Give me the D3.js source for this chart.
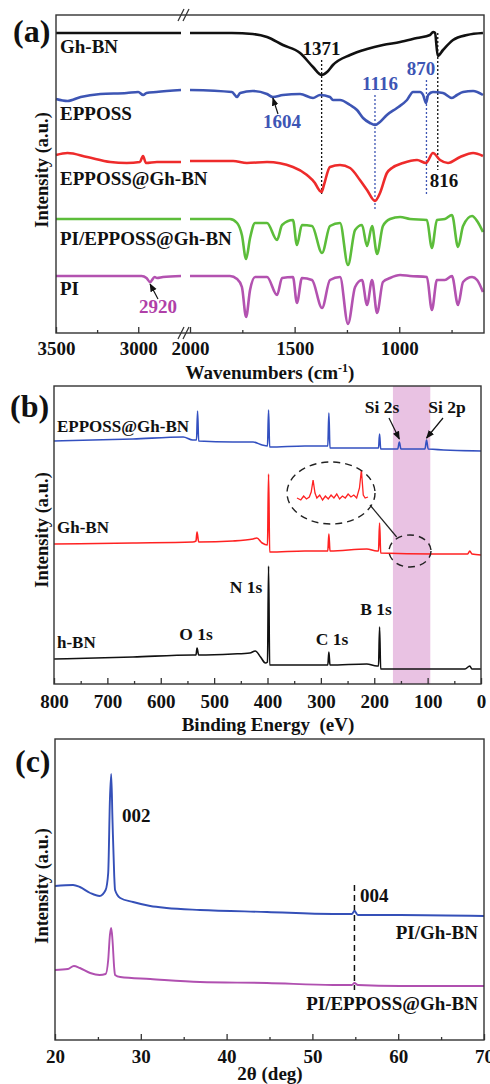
<!DOCTYPE html>
<html>
<head>
<meta charset="utf-8">
<script src="https://cdn.jsdelivr.net/npm/d3@7"></script>
<style>
body { margin: 0; background: #fff; }
text { font-family: "Liberation Serif", "Times New Roman", serif; font-weight: bold; }
</style>
</head>
<body>
<script>
const W = 490, H = 1084;

// ---- (a) FTIR data: [wavenumber, intensity a.u.] ----
const irGhBN = [[3500,300],[2740,300],[2000,300],[1800,300],[1700,299],[1632,296],[1556,288],[1474,280],[1412,266],[1371,258],[1345,261],[1317,268],[1235,278],[1154,284],[1078,288],[996,291],[915,295],[853,298],[838,301],[829,300],[816,277],[791,283],[743,293],[676,298],[600,300]];
const irEPPOSS = [[3500,234],[3430,232],[3350,236],[3230,239],[3070,240],[3000,241],[2970,238],[2950,240],[2890,241],[2740,243],
  [2000,243],[1800,241],[1775,236],[1760,240],[1700,242],[1632,239],[1604,236],[1556,238],[1474,239],[1412,235],[1379,238],[1331,236],[1317,233],[1283,233],[1235,228],[1202,223],[1173,215],[1140,210],[1116,208],[1092,211],[1059,218],[1011,225],[963,233],[934,241],[901,241],[886,238],[872,230],[862,238],[839,241],[791,240],[748,235],[724,238],[695,241],[647,242],[600,238]];
const irEPPOSSGhBN = [[3500,178],[3430,180],[3310,176],[3170,171],[3070,170],[2990,171],[2971,177],[2953,170],[2886,171],[2740,171],
  [2000,172],[1794,172],[1728,170],[1632,171],[1508,166],[1441,158],[1403,150],[1383,143],[1371,141],[1360,148],[1331,166],[1283,168],[1235,165],[1188,153],[1154,143],[1116,132],[1092,140],[1059,160],[1035,165],[982,170],[915,173],[872,170],[839,180],[805,173],[767,170],[709,176],[647,180],[600,177]];
const irPIEPPOSS = [[3500,114],[2740,114],[2000,114],[1809,114],[1775,110],[1752,98],[1732,74],[1713,95],[1689,110],[1632,110],[1584,93],[1560,108],[1508,113],[1489,88],[1465,108],[1417,107],[1369,80],[1331,107],[1283,110],[1245,68],[1211,103],[1178,108],[1154,87],[1130,107],[1106,79],[1078,107],[1044,114],[996,116],[949,114],[868,113],[844,85],[820,113],[782,114],[748,118],[719,86],[695,107],[652,117],[628,112],[600,101]];
const irPI = [[3500,57],[2980,57],[2950,55],[2928,51],[2900,56],[2886,55],[2850,56],[2740,57],
  [2000,57],[1809,57],[1775,54],[1752,46],[1732,16],[1713,43],[1689,56],[1632,56],[1584,38],[1560,55],[1508,56],[1489,30],[1465,55],[1417,53],[1369,25],[1331,53],[1283,56],[1245,9],[1211,46],[1178,53],[1154,28],[1130,53],[1106,20],[1078,51],[1044,55],[996,58],[949,57],[868,56],[844,23],[820,53],[782,53],[748,57],[719,28],[695,51],[652,56],[628,53],[600,41]];
const irNames = ["Gh-BN", "EPPOSS", "EPPOSS@Gh-BN", "PI/EPPOSS@Gh-BN", "PI"];
const irColors = ["#111111", "#3d55b4", "#ee2b2b", "#5cbd3a", "#b352b0"];
const irTicksLeft = [3500, 3000], irMinorLeft = [3250];
const irTicksRight = [2000, 1500, 1000], irMinorRight = [1750, 1250, 750];
const irPeaks = [1371, 1116, 870, 816];
const irPeakSpan = [[273, 137], [238, 123], [253, 138], [300, 163]];

// ---- (b) XPS data: [binding energy eV, intensity a.u.] ----
const xpsEPPOSSGhBN = [[800,243],[652,245],[558,247],[540,244],[533,244],[531,273],[529,243],[465,242],[427,242],[410,239],[400,238],[398,274],[396,237],[330,238],[308,238],[287,238],[285,271],[283,236],[200,236],[192,236],[190,250],[188,235],[156,235],[153,242],[150,235],[105,235],[102,244],[99,235],[0,233]];
const xpsGhBN = [[800,140],[652,141],[540,142],[534,143],[532,152],[529,142],[465,143],[427,145],[420,146],[410,141],[400,139],[398,210],[396,132],[330,133],[287,133],[285,150],[283,133],[214,135],[195,133],[192,133],[190,161],[188,131],[90,130],[25,130],[21,133],[17,130],[0,129]];
const xpsHBN = [[800,25],[652,27],[540,29],[534,29],[532,36],[529,29],[465,30],[433,31],[423,33],[413,27],[404,21],[400,22],[398,118],[396,19],[308,19],[287,19],[285,32],[283,19],[214,20],[195,18],[192,18],[190,57],[188,15],[30,15],[21,18],[17,15],[0,15]];
const xpsInset = [[170,0],[166,-2],[163,2],[160,-1],[157,1],[155,6],[153,18],[151,5],[149,0],[146,3],[143,-2],[140,2],[137,-1],[134,3],[131,0],[128,4],[125,-1],[122,2],[119,0],[116,4],[113,1],[110,3],[107,0],[104,10],[102,28],[100,3],[98,0],[95,1]];
const xpsColors = ["#3350c0", "#ff2222", "#111111"];
const xpsTicks = [800, 700, 600, 500, 400, 300, 200, 100, 0];
const xpsMinor = [750, 650, 550, 450, 350, 250, 150, 50];
const siBand = [165, 95];

// ---- (c) XRD data: [2theta deg, intensity a.u.] ----
const xrdPIGhBN = [[20,154],[22.1,155],[22.9,153],[24.1,147],[25.2,144],[25.9,150],[26.2,167],[26.4,240],[26.55,266],[26.7,220],[26.9,165],[27.0,150],[27.6,142],[29.1,138],[31.1,134],[33.0,132],[36.9,130],[44.7,128],[52.4,126],[54.6,126],[54.9,129],[55.3,125],[60.2,125],[70,124]];
const xrdPIEPPOSS = [[20,70],[21.5,71],[22.2,74],[22.9,72],[24.1,67],[25.2,65],[25.9,66],[26.2,80],[26.4,105],[26.55,112],[26.7,100],[26.9,72],[27.0,65],[27.6,63],[31.1,61],[36.9,58],[44.7,57],[52.4,55],[54.6,55],[54.9,57],[55.3,55],[60.2,54],[70,54]];
const xrdColors = ["#3550b8", "#b050b0"];
const xrdTicks = [20, 30, 40, 50, 60, 70], xrdMinor = [25, 35, 45, 55, 65];

const svg = d3.select("body").append("svg").attr("width", W).attr("height", H);

const defs = svg.append("defs");
defs.append("marker").attr("id", "arr").attr("viewBox", "0 0 10 10")
  .attr("refX", 9).attr("refY", 5).attr("markerWidth", 7).attr("markerHeight", 7)
  .attr("orient", "auto-start-reverse")
  .append("path").attr("d", "M0,1 L10,5 L0,9 z").attr("fill", "#111");

function frame(x0, y0, x1, y1) {
  svg.append("rect").attr("x", x0).attr("y", y0).attr("width", x1 - x0).attr("height", y1 - y0)
    .attr("fill", "none").attr("stroke", "#333").attr("stroke-width", 1.4);
}

function bottomAxis(scale, y, major, minor, pad) {
  const g = svg.append("g").attr("transform", "translate(0," + y + ")");
  g.call(d3.axisBottom(scale).tickValues(major).tickFormat(d3.format("d"))
    .tickSizeInner(-6).tickSizeOuter(0).tickPadding(pad));
  g.select(".domain").remove();
  g.selectAll("line").attr("stroke", "#333").attr("stroke-width", 1.3);
  g.selectAll("text").attr("font-size", 19).attr("fill", "#111")
    .style("font-family", '"Liberation Serif", serif').style("font-weight", "bold");
  const m = svg.append("g").attr("transform", "translate(0," + y + ")");
  m.call(d3.axisBottom(scale).tickValues(minor).tickSizeInner(-3).tickSizeOuter(0).tickFormat(""));
  m.select(".domain").remove();
  m.selectAll("line").attr("stroke", "#333").attr("stroke-width", 1.3);
}

function label(x, y, txt, size, color, anchor) {
  return svg.append("text").attr("x", x).attr("y", y).attr("font-size", size)
    .attr("fill", color || "#111").attr("text-anchor", anchor || "start").text(txt);
}

function yTitle(x, y) {
  svg.append("text").attr("transform", "translate(" + x + "," + y + ") rotate(-90)")
    .attr("text-anchor", "middle").attr("font-size", 18.5).attr("fill", "#111").text("Intensity (a.u.)");
}

// ================= (a) =================
const xa1 = d3.scaleLinear().domain([3500, 2740]).range([56, 181]);
const xa2 = d3.scaleLinear().domain([2000, 595]).range([190, 484]);
const ya = d3.scaleLinear().domain([0, 318]).range([333, 15]);
const la1 = d3.line().x(d => xa1(d[0])).y(d => ya(d[1])).curve(d3.curveMonotoneX);
const la2 = d3.line().x(d => xa2(d[0])).y(d => ya(d[1])).curve(d3.curveMonotoneX);

// dotted guide lines
const peakColors = ["#111", "#3d55b4", "#3d55b4", "#111"];
irPeaks.forEach((p, i) => {
  svg.append("line").attr("x1", xa2(p)).attr("x2", xa2(p))
    .attr("y1", ya(irPeakSpan[i][0])).attr("y2", ya(irPeakSpan[i][1]))
    .attr("stroke", peakColors[i]).attr("stroke-width", 1.3).attr("stroke-dasharray", "2,2");
});

[irGhBN, irEPPOSS, irEPPOSSGhBN, irPIEPPOSS, irPI].forEach((s, i) => {
  svg.append("path").attr("d", la1(s.filter(d => d[0] > 2400)))
    .attr("fill", "none").attr("stroke", irColors[i]).attr("stroke-width", 2.6);
  svg.append("path").attr("d", la2(s.filter(d => d[0] <= 2000)))
    .attr("fill", "none").attr("stroke", irColors[i]).attr("stroke-width", 2.6);
});

frame(56, 15, 484, 333);
bottomAxis(xa1, 333, irTicksLeft, irMinorLeft, 9);
bottomAxis(xa2, 333, irTicksRight, irMinorRight, 9);

// axis break marks
[15, 333].forEach(y => {
  [0, 5].forEach(dx => {
    svg.append("line").attr("x1", 178 + dx).attr("y1", y + 6).attr("x2", 184 + dx).attr("y2", y - 6)
      .attr("stroke", "#333").attr("stroke-width", 1.2);
  });
});

label(60, 53, irNames[0], 19);
label(60, 120, irNames[1], 19);
label(60, 185, irNames[2], 19);
label(60, 245, irNames[3], 19);
label(60, 295, irNames[4], 19);

label(xa2(1371), 55, "1371", 19, "#111", "middle");
label(380, 90, "1116", 19, "#3d55b4", "middle");
label(421, 75, "870", 19, "#3d55b4", "middle");
label(282, 128, "1604", 19, "#3d55b4", "middle");
label(444, 187, "816", 19, "#111", "middle");
label(158, 313, "2920", 19, "#b040a8", "middle");

svg.append("line").attr("x1", 278).attr("y1", 114).attr("x2", xa2(1604)).attr("y2", ya(236) + 1)
  .attr("stroke", "#111").attr("stroke-width", 1.2).attr("marker-end", "url(#arr)");
svg.append("line").attr("x1", 158).attr("y1", 299).attr("x2", xa1(2928)).attr("y2", ya(51) + 2)
  .attr("stroke", "#111").attr("stroke-width", 1.2).attr("marker-end", "url(#arr)");

label(13, 42, "(a)", 32);
yTitle(48, 170);
const ta = label(270, 379, "Wavenumbers (cm", 19, "#111", "middle");
ta.append("tspan").attr("font-size", 12).attr("dy", -7).text("-1");
ta.append("tspan").attr("dy", 7).text(")");

// ================= (b) =================
const xb = d3.scaleLinear().domain([800, 0]).range([54, 481]);
const yb = d3.scaleLinear().domain([0, 298]).range([684, 386]);
const lb = d3.line().x(d => xb(d[0])).y(d => yb(d[1])).curve(d3.curveMonotoneX);

svg.append("rect").attr("x", xb(siBand[0])).attr("y", 386)
  .attr("width", xb(siBand[1]) - xb(siBand[0])).attr("height", 298).attr("fill", "#e9c2e3");

[xpsEPPOSSGhBN, xpsGhBN, xpsHBN].forEach((s, i) => {
  svg.append("path").attr("d", lb(s)).attr("fill", "none")
    .attr("stroke", xpsColors[i]).attr("stroke-width", 1.6);
});

// inset (zoomed Gh-BN around Si region)
const xi = d3.scaleLinear().domain([170, 95]).range([297, 368]);
const yi = d3.scaleLinear().domain([0, 28]).range([498, 470]);
svg.append("path").attr("d", d3.line().x(d => xi(d[0])).y(d => yi(d[1]))(xpsInset))
  .attr("fill", "none").attr("stroke", xpsColors[1]).attr("stroke-width", 1.3);
svg.append("ellipse").attr("cx", xb(281)).attr("cy", yb(191)).attr("rx", 44).attr("ry", 31)
  .attr("fill", "none").attr("stroke", "#222").attr("stroke-width", 1.4).attr("stroke-dasharray", "7,5");
svg.append("ellipse").attr("cx", xb(133)).attr("cy", yb(133)).attr("rx", 21).attr("ry", 16)
  .attr("fill", "none").attr("stroke", "#222").attr("stroke-width", 1.4).attr("stroke-dasharray", "7,5");
svg.append("line").attr("x1", xb(208)).attr("y1", yb(179)).attr("x2", xb(158)).attr("y2", yb(147))
  .attr("stroke", "#222").attr("stroke-width", 1.2);

frame(54, 386, 481, 684);
bottomAxis(xb, 684, xpsTicks, xpsMinor, 11);

label(57, 432, "EPPOSS@Gh-BN", 17);
label(57, 533, "Gh-BN", 17);
label(57, 648, "h-BN", 17);
label(196, 640, "O 1s", 17.5, "#111", "middle");
label(246, 593, "N 1s", 17.5, "#111", "middle");
label(332, 645, "C 1s", 17.5, "#111", "middle");
label(376, 615, "B 1s", 17.5, "#111", "middle");
label(382, 413, "Si 2s", 17.5, "#111", "middle");
label(447, 413, "Si 2p", 17.5, "#111", "middle");
svg.append("line").attr("x1", 389).attr("y1", 418).attr("x2", xb(153)).attr("y2", yb(245))
  .attr("stroke", "#111").attr("stroke-width", 1.2).attr("marker-end", "url(#arr)");
svg.append("line").attr("x1", 443).attr("y1", 418).attr("x2", xb(102)).attr("y2", yb(246))
  .attr("stroke", "#111").attr("stroke-width", 1.2).attr("marker-end", "url(#arr)");

label(10, 417, "(b)", 32);
yTitle(48, 530);
label(268, 731, "Binding Energy  (eV)", 19, "#111", "middle").attr("xml:space", "preserve").style("white-space", "pre");

// ================= (c) =================
const xc = d3.scaleLinear().domain([20, 70]).range([55, 484]);
const yc = d3.scaleLinear().domain([0, 301]).range([1040, 739]);
const lc = d3.line().x(d => xc(d[0])).y(d => yc(d[1])).curve(d3.curveMonotoneX);

svg.append("line").attr("x1", xc(54.9)).attr("x2", xc(54.9)).attr("y1", yc(155)).attr("y2", yc(50))
  .attr("stroke", "#111").attr("stroke-width", 1.5).attr("stroke-dasharray", "6,4");

[xrdPIGhBN, xrdPIEPPOSS].forEach((s, i) => {
  svg.append("path").attr("d", lc(s)).attr("fill", "none")
    .attr("stroke", xrdColors[i]).attr("stroke-width", 1.9);
});

frame(55, 739, 484, 1040);
bottomAxis(xc, 1040, xrdTicks, xrdMinor, 10);

label(122, 822, "002", 19);
label(360, 902, "004", 19);
label(478, 939, "PI/Gh-BN", 19, "#111", "end");
label(478, 1010, "PI/EPPOSS@Gh-BN", 19, "#111", "end");
label(15, 772, "(c)", 32);
yTitle(48, 886);
label(270, 1080, "2θ (deg)", 19, "#111", "middle");
</script>
</body>
</html>
